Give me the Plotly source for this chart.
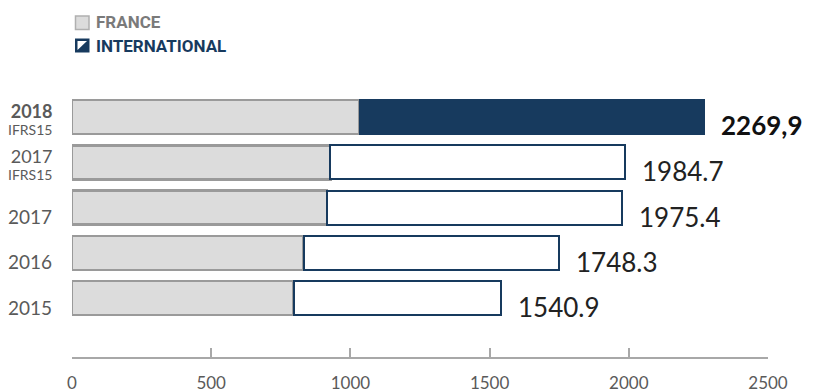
import plotly.graph_objects as go

# Revenue by year, split France / International (M€)
categories = ["2015", "2016", "2017", "2017 IFRS15", "2018 IFRS15"]
year_labels = ["2015", "2016", "2017", "2017", "2018"]
sub_labels = ["", "", "", "IFRS15", "IFRS15"]
totals = [1540.9, 1748.3, 1975.4, 1984.7, 2269.9]
france = [796, 832, 916, 928, 1033]
international = [round(t - f, 1) for t, f in zip(totals, france)]
value_labels = ["1540.9", "1748.3", "1975.4", "1984.7", "2269,9"]
highlight = [False, False, False, False, True]
x_ticks = [0, 500, 1000, 1500, 2000, 2500]

NAVY = "#173a5e"
GREY_FILL = "#dcdcdc"
GREY_LINE = "#9a9a9a"
TEXT_GREY = "#5a5a5a"

W, H = 813, 392
ML, MR, MT, MB = 72, 45, 90, 35
PW, PH = W - ML - MR, H - MT - MB


def px_x(px):
    return (px - ML) / PW


def px_y(py):
    return (H - MB - py) / PH


fig = go.Figure()
fig.add_trace(go.Bar(
    y=categories, x=france, orientation="h", name="FRANCE",
    marker=dict(color=GREY_FILL, line=dict(color=GREY_LINE, width=2.5)),
    width=0.75, hoverinfo="skip",
))
fig.add_trace(go.Bar(
    y=categories, x=international, orientation="h", name="INTERNATIONAL",
    marker=dict(color=[NAVY if h else "white" for h in highlight],
                line=dict(color=NAVY, width=2)),
    width=0.75, hoverinfo="skip",
))

annotations = []
# Value labels to the right of each bar (y given as category index)
for i, (tot, lab, h) in enumerate(zip(totals, value_labels, highlight)):
    annotations.append(dict(
        x=tot, y=i, xref="x", yref="y", text=f"<b>{lab}</b>" if h else lab,
        showarrow=False, xanchor="left", yanchor="middle",
        xshift=15, yshift=-9 if not h else -8,
        font=dict(family="Lato, sans-serif", size=26, color="#111" if h else "#222"),
    ))

# Category labels on the left; the small base size keeps the two lines tight
for i, (yl, sl, h) in enumerate(zip(year_labels, sub_labels, highlight)):
    ytxt = f"<b>{yl}</b>" if h else yl
    if sl:
        text = (f"<span style='font-size:18px'>{ytxt}</span><br>"
                f"<span style='font-size:14px'>{sl}</span>")
        size, ys = 13, -2
    else:
        text, size, ys = ytxt, 19, -9
    annotations.append(dict(
        x=px_x(54), y=i, xref="paper", yref="y", text=text, align="right",
        showarrow=False, xanchor="right", yanchor="middle", yshift=ys,
        font=dict(family="Lato, sans-serif", size=size, color=TEXT_GREY),
    ))

# Legend entries
annotations.append(dict(
    x=px_x(94), y=px_y(22.5), xref="paper", yref="paper", text="<b>FRANCE</b>",
    showarrow=False, xanchor="left", yanchor="middle",
    font=dict(family="Roboto, sans-serif", size=17, color="#7a7a7a"),
))
annotations.append(dict(
    x=px_x(94), y=px_y(46), xref="paper", yref="paper", text="<b>INTERNATIONAL</b>",
    showarrow=False, xanchor="left", yanchor="middle",
    font=dict(family="Roboto, sans-serif", size=17, color=NAVY),
))

shapes = [
    dict(type="rect", xref="paper", yref="paper",
         x0=px_x(75.5), x1=px_x(89), y0=px_y(29.5), y1=px_y(16),
         fillcolor=GREY_FILL, line=dict(color="#b0b0b0", width=1.5)),
    dict(type="rect", xref="paper", yref="paper",
         x0=px_x(75), x1=px_x(89.5), y0=px_y(52.5), y1=px_y(38.5),
         fillcolor=NAVY, line=dict(width=0)),
]
x0, x1 = px_x(77.5), px_x(87)
y0, y1 = px_y(50), px_y(41)
shapes.append(dict(
    type="path", xref="paper", yref="paper",
    path=f"M {x0} {y0} L {x0} {y1} L {x1} {y1} Z",
    fillcolor="white", line=dict(width=0),
))

fig.update_layout(
    width=W, height=H, autosize=False,
    margin=dict(l=ML, r=MR, t=MT, b=MB, autoexpand=False),
    barmode="stack", bargap=0.25,
    showlegend=False,
    plot_bgcolor="white", paper_bgcolor="white",
    annotations=annotations, shapes=shapes,
    xaxis=dict(
        range=[0, 2500], tickvals=x_ticks, ticktext=[str(v) for v in x_ticks],
        showgrid=False, zeroline=False, automargin=False,
        showline=True, linecolor="#a8a8a8", linewidth=2,
        ticks="inside", ticklen=9, tickwidth=2, tickcolor="#a8a8a8",
        ticklabelstandoff=10,
        tickfont=dict(family="Lato, sans-serif", size=17, color=TEXT_GREY),
        fixedrange=True,
    ),
    yaxis=dict(
        type="category", categoryorder="array", categoryarray=categories,
        range=[-1.3, 4.6], showticklabels=False, showgrid=False,
        zeroline=False, showline=False, fixedrange=True, automargin=False,
    ),
)

fig.write_html("out.html", config={"displayModeBar": False})
